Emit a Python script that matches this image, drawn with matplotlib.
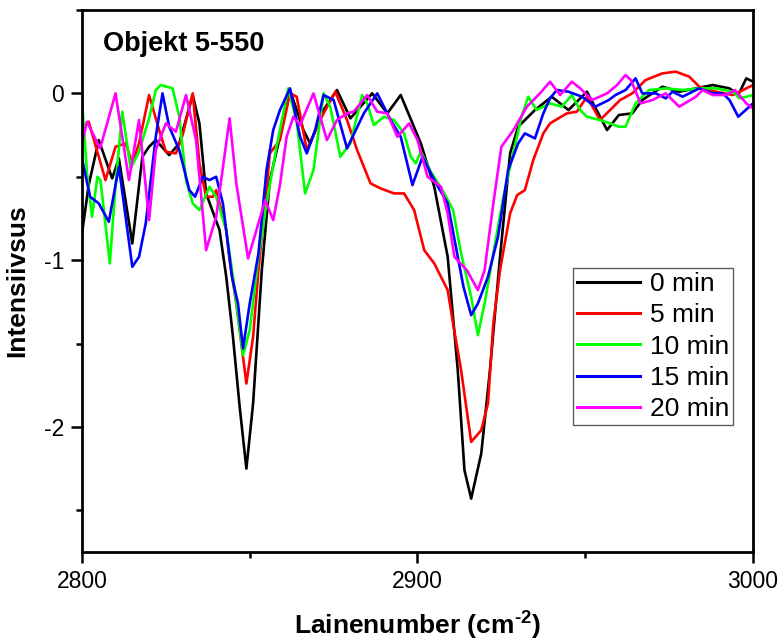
import matplotlib
matplotlib.use("Agg")
import matplotlib.pyplot as plt
from matplotlib.ticker import MultipleLocator

plt.rcParams['font.family'] = ['Liberation Sans', 'DejaVu Sans']
plt.rcParams['axes.unicode_minus'] = False
plt.rcParams['mathtext.fontset'] = 'custom'
plt.rcParams['mathtext.rm'] = 'Liberation Sans:bold'
plt.rcParams['mathtext.bf'] = 'Liberation Sans:bold'
plt.rcParams['mathtext.default'] = 'rm'

# Spectra (wavenumber, intensity) per exposure time
wn_0 = [2800, 2802, 2805, 2809, 2811, 2815, 2818, 2820, 2822, 2826, 2829, 2833, 2835, 2837,
        2841, 2843, 2845, 2847, 2849, 2851, 2853.6, 2856, 2859, 2862, 2866, 2868, 2872, 2876,
        2880, 2883, 2886.5, 2891, 2895, 2901, 2905, 2909, 2912, 2914, 2916, 2919, 2921.6,
        2924.6, 2927.6, 2930, 2935, 2940, 2945, 2950.5, 2956.5, 2960, 2964, 2967, 2973, 2978,
        2983, 2988, 2993, 2995.6, 2998, 3000]
int_0 = [-0.84, -0.55, -0.28, -0.51, -0.39, -0.90, -0.38, -0.32, -0.28, -0.37, -0.30, -0.01,
         -0.18, -0.60, -0.82, -1.10, -1.46, -1.88, -2.25, -1.86, -1.06, -0.52, -0.26, 0.02,
         -0.22, -0.30, -0.10, 0.02, -0.15, -0.08, 0.0, -0.12, -0.01, -0.30, -0.56, -0.98,
         -1.66, -2.26, -2.43, -2.16, -1.66, -0.98, -0.36, -0.20, -0.10, -0.02, -0.10, 0.01,
         -0.22, -0.13, -0.12, -0.04, 0.04, 0.01, 0.03, 0.05, 0.03, -0.01, 0.09, 0.07]

wn_5 = [2800, 2802, 2807, 2810, 2813, 2815, 2817, 2820, 2823, 2825, 2828, 2830, 2833, 2835,
        2837, 2839, 2840, 2843, 2844, 2846, 2849, 2851, 2852.6, 2854.6, 2856, 2859, 2862,
        2864, 2867, 2871.5, 2875.5, 2879, 2882, 2886, 2889, 2893, 2896, 2899, 2902, 2905,
        2909, 2910.6, 2913, 2916, 2919, 2921, 2922.6, 2924.6, 2927.6, 2929.7, 2932, 2934.5,
        2937.5, 2939.5, 2944.5, 2947.5, 2950.5, 2954.4, 2957.4, 2960.4, 2964, 2968, 2973,
        2977, 2981, 2984, 2989, 2994, 2997, 3000]
int_5 = [-0.21, -0.17, -0.52, -0.32, -0.30, -0.42, -0.30, -0.01, -0.22, -0.35, -0.36, -0.25,
         0.0, -0.42, -0.62, -0.62, -0.58, -0.82, -1.0, -1.26, -1.74, -1.46, -1.06, -0.66,
         -0.36, -0.28, 0.0, -0.02, -0.34, -0.14, 0.01, -0.16, -0.34, -0.54, -0.57, -0.60,
         -0.60, -0.70, -0.94, -1.02, -1.18, -1.38, -1.66, -2.09, -2.02, -1.86, -1.38, -1.06,
         -0.72, -0.61, -0.58, -0.40, -0.24, -0.18, -0.12, -0.11, -0.02, -0.16, -0.10, -0.04,
         0.0, 0.08, 0.12, 0.13, 0.10, 0.04, 0.01, -0.01, 0.02, 0.05]

wn_10 = [2800, 2801.5, 2803, 2804.6, 2805.5, 2808.3, 2810, 2812, 2814.5, 2817, 2820, 2822,
         2823.5, 2827, 2829, 2831, 2833, 2835, 2838, 2840, 2843, 2845, 2848, 2850, 2852.6,
         2855, 2858, 2861.5, 2864, 2866.5, 2869, 2872, 2874, 2877, 2880, 2883.5, 2885, 2887,
         2890, 2893, 2896, 2898, 2899.5, 2901, 2904, 2908, 2910.6, 2913, 2916, 2918, 2920,
         2922.6, 2925.6, 2928.5, 2931, 2933, 2935.5, 2939.5, 2943, 2946, 2948.5, 2950.5,
         2954.4, 2957.4, 2960, 2962, 2965, 2969, 2974, 2979, 2984, 2989, 2994, 2996, 3000]
int_10 = [-0.04, -0.48, -0.74, -0.50, -0.52, -1.02, -0.55, -0.11, -0.45, -0.35, -0.15, 0.02,
          0.05, 0.03, -0.14, -0.52, -0.66, -0.70, -0.56, -0.62, -0.82, -1.10, -1.57, -1.42,
          -0.98, -0.66, -0.32, 0.03, -0.17, -0.60, -0.46, 0.0, -0.08, -0.38, -0.30, -0.01,
          -0.06, -0.19, -0.14, -0.16, -0.24, -0.38, -0.42, -0.35, -0.47, -0.60, -0.70, -0.96,
          -1.22, -1.45, -1.26, -0.96, -0.62, -0.36, -0.14, -0.02, -0.10, -0.06, -0.08, -0.01,
          -0.10, -0.14, -0.16, -0.18, -0.20, -0.20, -0.06, 0.02, 0.03, 0.02, 0.03, 0.03, 0.01,
          -0.03, -0.01]

wn_15 = [2800, 2802.4, 2805, 2808, 2811, 2815, 2817, 2819, 2822, 2824, 2826, 2829, 2832,
         2833.7, 2836, 2838, 2840, 2842, 2844.7, 2846.5, 2848, 2850, 2852.6, 2855, 2857, 2859,
         2862, 2865, 2867, 2869.5, 2872, 2875, 2879, 2884, 2888, 2892, 2895, 2898.5, 2901.5,
         2905, 2909, 2912, 2913.7, 2916, 2918, 2921, 2924, 2927, 2930, 2932, 2935, 2937.5,
         2939.5, 2941.5, 2945, 2949, 2953, 2957, 2959, 2962, 2965, 2967, 2971, 2974, 2976,
         2979, 2984, 2988, 2991, 2993, 2995.6, 3000]
int_15 = [-0.39, -0.62, -0.66, -0.77, -0.44, -1.04, -0.98, -0.78, -0.26, 0.0, -0.20, -0.34,
          -0.58, -0.62, -0.50, -0.52, -0.50, -0.66, -1.10, -1.26, -1.53, -1.26, -0.96, -0.46,
          -0.22, -0.10, 0.03, -0.26, -0.36, -0.22, -0.01, -0.04, -0.33, -0.12, 0.0, -0.16,
          -0.26, -0.55, -0.38, -0.52, -0.66, -0.98, -1.16, -1.33, -1.26, -1.10, -0.86, -0.46,
          -0.30, -0.24, -0.27, -0.12, -0.03, 0.02, 0.01, -0.02, -0.08, -0.04, -0.01, 0.02,
          0.09, 0.0, 0.0, -0.03, 0.01, -0.02, 0.03, 0.0, 0.0, -0.04, -0.14, -0.06]

wn_20 = [2800, 2801.5, 2805.4, 2810, 2814, 2817, 2820, 2822, 2825, 2828, 2831, 2834, 2837,
         2840, 2844, 2846, 2849.5, 2852, 2854.6, 2857, 2859, 2861, 2863, 2865, 2869, 2873,
         2876, 2879, 2881, 2885, 2888, 2891, 2894, 2897.5, 2900, 2903, 2907, 2909, 2911,
         2914.7, 2918, 2920, 2922.6, 2925, 2928.6, 2932.6, 2936.5, 2939.5, 2942.5, 2946,
         2948.5, 2952, 2956.5, 2959.5, 2962, 2963.6, 2966.5, 2970, 2974, 2978, 2983, 2985,
         2988, 2992, 2994.6, 2998, 3000]
int_20 = [-0.30, -0.17, -0.33, 0.0, -0.52, -0.16, -0.76, -0.34, -0.18, -0.23, -0.01, -0.28,
          -0.94, -0.74, -0.15, -0.54, -0.99, -0.82, -0.64, -0.76, -0.55, -0.26, -0.14, -0.19,
          0.0, -0.28, -0.16, -0.12, -0.11, -0.01, -0.11, -0.12, -0.26, -0.18, -0.28, -0.50,
          -0.56, -0.72, -0.98, -1.06, -1.18, -1.06, -0.66, -0.32, -0.22, -0.08, 0.0, 0.07,
          -0.01, 0.07, 0.03, -0.04, 0.0, 0.05, 0.11, 0.08, -0.06, -0.04, 0.0, -0.08, -0.02,
          0.02, -0.01, -0.01, 0.02, -0.06, -0.09]

labels = ["0 min", "5 min", "10 min", "15 min", "20 min"]
colors = ["#000000", "#FF0000", "#00FF00", "#0000FF", "#FF00FF"]
series = [(wn_0, int_0), (wn_5, int_5), (wn_10, int_10), (wn_15, int_15), (wn_20, int_20)]

fig = plt.figure(figsize=(7.83, 6.44), dpi=100)
ax = fig.add_axes([0.1047, 0.1429, 0.857, 0.8416])

for (x, y), lab, col in zip(series, labels, colors):
    ax.plot(x, y, color=col, lw=1.9, label=lab, solid_joinstyle="round")

ax.set_xlim(2800, 3000)
ax.set_ylim(-2.75, 0.5)
ax.xaxis.set_major_locator(MultipleLocator(100))
ax.xaxis.set_minor_locator(MultipleLocator(50))
ax.yaxis.set_major_locator(MultipleLocator(1))
ax.yaxis.set_minor_locator(MultipleLocator(0.5))

for s in ax.spines.values():
    s.set_linewidth(2.0)
ax.tick_params(which="major", direction="out", length=8, width=1.8, labelsize=16.5, pad=5)
ax.tick_params(which="minor", direction="out", length=4, width=1.8)
ax.tick_params(top=False, right=False, which="both")

ax.set_xlabel("Lainenumber (cm$^{\\text{-2}}$)", fontsize=19, fontweight="bold", labelpad=12)
ax.set_ylabel("Intensiivsus", fontsize=19, fontweight="bold", labelpad=10)

ax.text(0.031, 0.924, "Objekt 5-550", transform=ax.transAxes, fontsize=19.5,
        fontweight="bold", va="baseline", ha="left")

leg = ax.legend(loc="upper left", bbox_to_anchor=(0.732, 0.524), fontsize=19,
                frameon=True, fancybox=False, borderaxespad=0, borderpad=0.15,
                handlelength=2.4, handletextpad=0.35, labelspacing=0.28)
leg.get_frame().set_edgecolor("#333333")
leg.get_frame().set_linewidth(1.0)
for h in leg.get_lines():
    h.set_linewidth(2.2)

fig.savefig("out.png", dpi=100)
